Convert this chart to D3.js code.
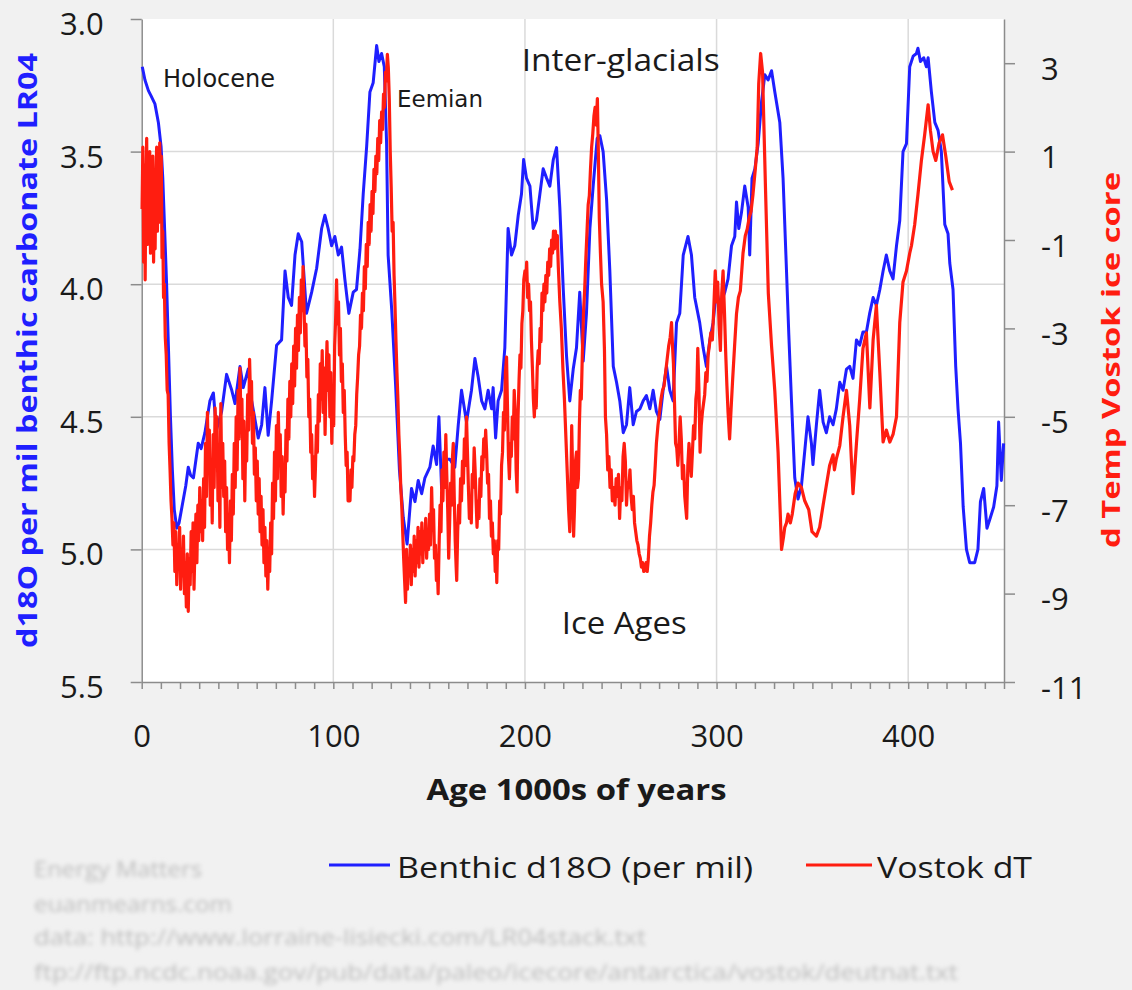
<!DOCTYPE html>
<html>
<head>
<meta charset="utf-8">
<script src="https://cdn.jsdelivr.net/npm/d3@7"></script>
<style>
  html, body { margin: 0; padding: 0; background: #f1f1f1; }
  svg { display: block; }
</style>
</head>
<body>
<svg id="chart" width="1132" height="990"></svg>
<script>
// LR04 benthic stack: [age (ka), d18O per mil]
const benthic = [
  [0.3,3.18],[1.7,3.23],[3.5,3.27],[4.9,3.29],[6.9,3.32],[8.7,3.39],[10.1,3.48],[11,3.6],[12,3.8],[13,4.0],
  [14,4.25],[15,4.5],[16,4.7],[17,4.85],[18.3,4.92],[19.5,4.9],[21,4.84],[23,4.76],[24.3,4.69],[25.5,4.72],
  [27,4.73],[29.5,4.60],[31,4.62],[33,4.56],[35.6,4.44],[37.4,4.41],[39,4.55],[41.7,4.48],[44.3,4.34],[47,4.40],
  [48.7,4.45],[51.3,4.31],[53,4.39],[55.6,4.32],[57.4,4.44],[60.8,4.58],[62.6,4.53],[64.3,4.39],[66,4.57],[67.8,4.44],
  [70.4,4.23],[73,4.21],[74.8,3.95],[76.5,4.05],[78.2,4.08],[80,3.89],[81.7,3.81],[83.5,3.84],[86,4.11],[88.7,4.03],
  [91.3,3.94],[93.9,3.79],[95.6,3.74],[97.3,3.79],[99.1,3.855],[100.8,3.82],[102.6,3.89],[104.3,3.86],[106,3.98],[108.1,4.11],
  [110.4,4.03],[112.1,4.02],[113.9,3.87],[115.6,3.66],[117.4,3.48],[119.1,3.275],[120.8,3.24],[122.6,3.10],[123.8,3.16],[125.2,3.13],
  [126.6,3.18],[127.8,3.47],[128.6,3.89],[130.5,4.1],[132.5,4.38],[134.5,4.7],[136.5,4.88],[138.5,4.98],[140.8,4.77],[142.6,4.82],
  [144.3,4.74],[146.1,4.79],[147.8,4.73],[150.4,4.69],[152.1,4.61],[153.9,4.68],[155.1,4.50],[156.5,4.77],[158.2,4.66],[160.8,4.66],
  [163.4,4.69],[165.2,4.53],[166.9,4.40],[169.5,4.52],[172.1,4.40],[173.9,4.28],[175.6,4.35],[177.4,4.44],[179.1,4.47],[180.8,4.40],
  [182.6,4.47],[183.4,4.39],[184.7,4.58],[186,4.44],[187.8,4.40],[189.5,4.24],[191.2,3.79],[193,3.89],[194.7,3.855],[196.5,3.74],
  [198.2,3.66],[199.3,3.53],[200.8,3.60],[202.6,3.63],[204.3,3.79],[206,3.76],[207.8,3.66],[209.5,3.565],[211.3,3.60],[213,3.63],
  [214.8,3.53],[216.5,3.485],[218.2,3.71],[220,4.02],[221.7,4.27],[223.4,4.44],[225.2,4.32],[226.9,4.24],[228.6,4.03],[230.4,4.29],
  [232.1,4.11],[233.9,3.79],[235.6,3.63],[237.7,3.45],[239.1,3.44],[240.8,3.50],[242.6,3.68],[244.3,3.95],[246.1,4.31],[247.8,4.37],
  [249.5,4.44],[251.3,4.56],[253,4.53],[254.7,4.39],[256.5,4.53],[258.2,4.48],[260,4.47],[261.7,4.44],[263.4,4.42],[265.2,4.47],
  [266.9,4.40],[268.6,4.48],[270.4,4.51],[272.1,4.40],[273.9,4.31],[275.6,4.40],[277.3,4.44],[279.1,4.145],[280.8,4.11],[282.6,3.89],
  [285.1,3.82],[286.9,3.89],[288.6,4.05],[291.2,4.145],[293,4.24],[294.7,4.31],[296.5,4.21],[298.2,4.145],[299.9,4.02],[301.7,4.08],
  [304.3,4.03],[306,3.98],[307.8,3.855],[309.5,3.82],[310.4,3.69],[311.6,3.79],[313,3.73],[314.7,3.63],[316.5,3.71],[317.3,3.89],
  [318.5,3.60],[320,3.565],[321.7,3.47],[323.5,3.31],[325.2,3.21],[326.9,3.23],[328.7,3.195],[330.4,3.275],[333,3.39],[334.7,3.60],
  [336.5,3.95],[337.7,4.19],[339.1,4.44],[340.8,4.73],[342.5,4.81],[344.3,4.76],[346,4.63],[347.7,4.50],[349.5,4.60],[350.3,4.68],
  [352.1,4.53],[353.8,4.40],[355.6,4.52],[357.3,4.56],[359,4.50],[360.8,4.53],[362.5,4.47],[364.3,4.37],[366,4.40],[367.8,4.32],
  [369.5,4.31],[371.2,4.355],[373,4.21],[374.7,4.23],[376.4,4.18],[378.2,4.18],[379.9,4.11],[381.7,4.05],[383.4,4.08],[385.2,4.02],
  [386.9,3.95],[388.6,3.89],[390.4,3.95],[392.1,3.98],[393.9,3.855],[395.6,3.76],[397.3,3.50],[399.1,3.47],[400.8,3.18],[402.6,3.14],
  [404.3,3.13],[405.1,3.11],[406.4,3.16],[408.1,3.146],[409.5,3.18],[410.4,3.146],[412.1,3.275],[413.9,3.39],[415.6,3.42],[417.3,3.50],
  [419.1,3.775],[420.8,3.81],[421.7,3.92],[423.4,4.02],[424.8,4.31],[426,4.47],[427.3,4.60],[428.7,4.84],[430.4,5.00],[432.1,5.05],
  [434.7,5.05],[436.4,5.00],[437.7,4.82],[439.4,4.77],[441.1,4.92],[442.9,4.88],[444.6,4.84],[446.3,4.76],[447.2,4.52],[448.6,4.74],
  [449.8,4.60]
];

// Vostok deuterium temperature anomaly: [age (ka), dT degrees C]
const vostok = [
  [0.2,-0.3],[0.6,1.1],[1.0,-1.5],[1.4,0.7],[1.8,-1.9],[2.2,0.3],[2.6,1.3],[3.0,-1.1],[3.4,0.5],[3.8,-0.7],
  [4.2,1.0],[4.6,-1.3],[5.0,0.6],[5.4,-0.3],[5.8,0.9],[6.2,-1.5],[6.6,0.1],[7.0,-1.2],[7.4,0.4],[7.8,1.1],
  [8.2,-0.8],[8.6,0.9],[9.0,-0.6],[9.4,1.2],[9.8,0.1],[10.2,0.9],[10.6,-1.4],[11.0,-0.8],[11.4,-2.3],[11.8,-2.0],
  [12.3,-3.2],[12.8,-3.6],[13.3,-4.4],[13.8,-4.5],[14.3,-5.6],[14.8,-6.2],[15.3,-6.9],[15.8,-7.3],[16.3,-7.9],
  [16.8,-7.4],[17.3,-8.5],[17.8,-7.6],[18.3,-8.8],[18.8,-7.9],[19.3,-8.4],[19.8,-7.5],[20.3,-8.9],[20.8,-8.0],[21.3,-8.6],
  [21.8,-7.7],[22.3,-9.0],[22.8,-8.3],[23.3,-9.3],[23.8,-8.1],[24.3,-9.4],[24.8,-8.2],[25.3,-8.8],[25.8,-7.6],[26.3,-8.5],
  [26.8,-7.4],[27.3,-8.9],[27.8,-7.9],[28.3,-7.2],[28.8,-8.3],[29.3,-7.0],[29.8,-7.8],[30.3,-6.6],[30.8,-7.6],[31.3,-6.9],
  [31.8,-7.8],[32.3,-6.4],[32.8,-7.5],[33.3,-5.6],[33.8,-6.8],[34.3,-4.9],[34.8,-6.2],[35.3,-5.3],[35.8,-7.0],[36.3,-6.0],
  [36.8,-7.4],[37.3,-5.4],[37.8,-6.6],[38.3,-4.8],[38.8,-6.1],[39.3,-5.0],[39.8,-6.9],[40.3,-5.9],[40.8,-7.5],[41.3,-4.7],
  [41.8,-6.6],[42.3,-5.6],[42.8,-6.8],[43.3,-6.0],[43.8,-7.6],[44.3,-6.6],[44.8,-8.0],[45.3,-7.2],[45.8,-8.3],[46.3,-6.9],
  [46.8,-7.8],[47.3,-6.3],[47.8,-7.2],[48.3,-5.6],[48.8,-6.6],[49.3,-5.0],[49.8,-6.2],[50.3,-4.4],[50.8,-5.5],[51.3,-3.9],
  [51.8,-5.2],[52.3,-4.6],[52.8,-6.4],[53.3,-5.1],[53.8,-6.9],[54.3,-5.4],[54.8,-6.0],[55.3,-4.5],[55.8,-5.3],[56.3,-3.7],
  [56.8,-4.6],[57.3,-4.2],[57.8,-5.6],[58.3,-4.9],[58.8,-6.3],[59.3,-5.7],[59.8,-6.9],[60.3,-6.0],[60.8,-7.2],[61.3,-6.4],
  [61.8,-7.6],[62.3,-6.8],[62.8,-7.9],[63.3,-7.1],[63.8,-8.3],[64.3,-7.5],[64.8,-8.6],[65.3,-7.8],[65.8,-8.9],[66.3,-8.0],
  [66.8,-8.5],[67.3,-7.4],[67.8,-8.1],[68.3,-6.5],[68.8,-7.3],[69.3,-5.8],[69.8,-6.9],[70.3,-5.2],[70.8,-6.4],[71.3,-4.9],
  [71.8,-6.0],[72.3,-5.4],[72.8,-6.8],[73.3,-5.9],[73.8,-7.2],[74.3,-6.1],[74.8,-6.7],[75.3,-5.3],[75.8,-6.0],[76.3,-4.6],
  [76.8,-5.5],[77.3,-4.2],[77.8,-5.0],[78.3,-3.8],[78.8,-4.7],[79.3,-3.4],[79.8,-4.3],[80.3,-3.0],[80.8,-3.9],[81.3,-2.7],
  [81.8,-3.5],[82.3,-2.3],[82.8,-3.1],[83.3,-1.9],[83.8,-2.6],[84.2,-1.6],[84.7,-2.5],[85.2,-3.4],[85.7,-2.9],[86.2,-4.1],
  [86.7,-3.7],[87.2,-5.0],[87.7,-4.6],[88.2,-5.8],[88.7,-5.4],[89.2,-6.4],[89.7,-5.9],[90.2,-6.8],[90.7,-6.1],[91.2,-5.2],
  [91.7,-5.8],[92.2,-4.5],[92.7,-5.1],[93.2,-3.8],[93.7,-4.6],[94.2,-3.5],[94.7,-4.9],[95.2,-3.9],[95.7,-5.4],[96.2,-4.2],
  [96.7,-3.3],[97.2,-4.4],[97.7,-3.6],[98.2,-5.0],[98.7,-4.0],[99.2,-5.6],[99.7,-4.5],[100.2,-5.2],[100.7,-3.4],[101.2,-2.8],
  [101.7,-1.9],[102.2,-2.9],[102.7,-2.4],[103.2,-3.6],[103.7,-3.0],[104.2,-4.2],[104.7,-3.8],[105.2,-4.9],[105.7,-4.4],[106.2,-5.4],
  [106.7,-6.1],[107.2,-5.8],[107.7,-6.9],[108.2,-6.5],[108.7,-6.9],[109.2,-6.2],[109.7,-6.6],[110.2,-5.9],[110.7,-6.0],[111.2,-5.4],
  [111.7,-5.2],[112.2,-4.5],[112.7,-4.1],[113.2,-3.6],[113.7,-3.4],[114.2,-2.7],[114.7,-3.0],[115.2,-2.2],[115.7,-2.6],[116.2,-1.6],
  [116.7,-2.1],[117.2,-1.1],[117.7,-1.6],[118.2,-0.6],[118.7,-1.1],[119.2,-0.2],[119.7,-0.8],[120.2,0.1],[120.7,-0.4],[121.2,0.6],
  [121.7,0.1],[122.2,0.9],[122.7,0.5],[123.2,1.3],[123.7,0.8],[124.2,1.7],[124.7,1.2],[125.2,1.9],[125.7,1.5],[126.2,2.3],
  [126.7,2.0],[127.2,2.8],[127.7,2.6],[128.2,3.2],[128.7,2.9],[129.2,2.2],[129.7,1.0],[130.2,0.2],[130.7,-0.8],[131.2,-0.6],
  [131.7,-1.8],[132.2,-2.5],[132.7,-3.3],[133.2,-4.0],[133.7,-4.6],[134.2,-5.4],[134.7,-5.9],[135.2,-6.6],[135.7,-7.0],[136.2,-7.6],
  [136.7,-8.2],[137.2,-8.7],[137.7,-9.2],[138.2,-8.0],[138.7,-8.9],[139.2,-8.2],[139.7,-8.6],[140.2,-7.9],[140.7,-8.8],[141.2,-8.0],
  [141.7,-8.5],[142.2,-7.7],[142.7,-8.6],[143.2,-7.8],[143.7,-8.3],[144.2,-7.5],[144.7,-8.4],[145.2,-7.6],[145.7,-8.1],[146.2,-7.4],
  [146.7,-8.3],[147.2,-7.6],[147.7,-8.0],[148.2,-7.3],[148.7,-8.2],[149.2,-7.6],[149.7,-8.0],[150.2,-7.2],[150.7,-7.9],[151.3,-6.6],
  [151.8,-7.5],[152.3,-7.1],[152.8,-8.2],[153.3,-7.9],[153.8,-8.7],[154.3,-8.4],[154.7,-9.0],[155.2,-7.9],[155.7,-7.0],[156.2,-7.6],
  [156.7,-6.2],[157.2,-6.9],[157.7,-5.8],[158.2,-6.6],[158.7,-5.4],[159.2,-6.3],[159.7,-7.1],[160.2,-8.2],[160.7,-7.4],[161.2,-6.5],
  [161.7,-7.0],[162.2,-5.9],[162.6,-5.6],[163.1,-6.8],[163.6,-7.8],[164.1,-8.4],[164.4,-8.7],[164.9,-7.6],[165.4,-7.0],[165.9,-7.4],
  [166.4,-6.4],[166.9,-6.9],[167.4,-6.0],[167.9,-6.5],[168.4,-5.5],[168.9,-6.1],[169.5,-5.0],[170.0,-5.8],[170.5,-6.6],[171.0,-7.3],
  [171.5,-6.8],[172.0,-7.4],[172.5,-6.3],[173.0,-6.6],[173.5,-5.7],[174.0,-6.2],[174.5,-6.9],[175.0,-7.5],[175.5,-6.9],[176.0,-7.3],
  [176.5,-6.4],[177.0,-6.8],[177.5,-5.9],[178.0,-6.2],[178.5,-5.5],[179.0,-5.9],[179.5,-5.3],[180.0,-5.8],[180.5,-6.5],[181.0,-6.3],
  [181.5,-7.3],[182.0,-6.9],[182.5,-7.7],[183.0,-7.4],[183.5,-8.1],[184.0,-7.8],[184.5,-8.5],[185.0,-8.2],[185.3,-8.75],[185.8,-7.8],
  [186.3,-8.0],[186.8,-6.9],[187.3,-7.2],[187.8,-6.1],[188.3,-5.8],[188.8,-4.9],[189.3,-5.3],[189.8,-4.0],[190.4,-3.65],[190.9,-4.8],
  [191.4,-5.9],[191.9,-6.4],[192.4,-5.6],[192.9,-5.9],[193.4,-5.0],[193.9,-5.5],[194.4,-4.4],[194.9,-4.9],[195.4,-6.2],[195.9,-6.7],
  [196.4,-5.0],[196.9,-4.2],[197.4,-3.6],[197.9,-3.9],[198.4,-2.9],[198.9,-2.6],[199.4,-1.9],[200.0,-1.7],[200.5,-1.9],[200.9,-1.5],
  [201.4,-2.3],[201.9,-2.0],[202.4,-2.6],[202.9,-2.4],[203.4,-3.3],[203.9,-3.9],[204.4,-4.6],[204.9,-5.0],[205.4,-4.4],[205.9,-4.8],
  [206.4,-3.9],[206.9,-3.5],[207.4,-3.8],[207.9,-3.0],[208.4,-3.3],[208.9,-2.2],[209.4,-2.6],[209.9,-2.0],[210.4,-2.4],[210.9,-1.8],
  [211.4,-2.2],[211.9,-1.5],[212.4,-1.8],[212.9,-1.2],[213.4,-1.6],[213.9,-1.0],[214.4,-1.3],[214.9,-0.8],[215.4,-1.2],[215.9,-0.8],
  [216.4,-1.1],[216.9,-0.9],[217.4,-1.6],[218.2,-2.4],[219.0,-3.0],[219.8,-3.9],[220.6,-4.6],[221.4,-5.5],[222.2,-6.4],[222.8,-7.1],
  [223.4,-7.6],[223.9,-6.8],[224.4,-5.2],[224.9,-6.3],[225.4,-7.7],[225.9,-7.0],[226.4,-6.0],[226.9,-5.8],[227.4,-6.6],[227.9,-6.4],
  [228.4,-5.2],[228.9,-4.4],[229.4,-4.6],[230.0,-3.5],[230.6,-2.6],[231.2,-2.1],[231.8,-1.4],[232.4,-0.8],[233.0,-0.2],[233.6,0.0],
  [234.2,0.6],[234.8,1.1],[235.4,1.4],[236.0,1.8],[236.6,2.0],[237.2,1.6],[237.8,2.2],[238.3,1.0],[238.8,-0.5],[239.4,-1.3],
  [240.0,-2.0],[240.8,-2.4],[241.5,-3.5],[242.0,-5.0],[242.6,-5.4],[243.2,-6.2],[243.8,-5.9],[244.4,-6.6],[245.0,-6.2],[245.6,-6.9],
  [246.2,-6.6],[247.0,-7.0],[247.6,-6.4],[248.2,-6.8],[248.8,-6.3],[249.4,-7.3],[250.0,-6.6],[250.6,-6.9],[251.2,-5.9],[251.8,-5.6],
  [252.4,-6.0],[253.0,-7.0],[253.6,-6.5],[254.2,-6.6],[254.8,-6.2],[255.4,-6.8],[256.0,-7.1],[256.6,-6.8],[257.2,-7.4],[257.8,-7.6],
  [258.4,-7.8],[259.0,-7.9],[259.6,-8.1],[260.2,-8.2],[260.8,-8.4],[261.4,-8.3],[262.0,-8.5],[262.6,-8.48],[263.2,-8.3],[263.8,-8.5],
  [264.4,-8.2],[265.0,-7.7],[265.6,-7.4],[266.2,-7.0],[266.8,-6.7],[267.4,-6.55],[268.0,-6.1],[268.6,-5.6],[269.4,-5.2],[270.2,-4.9],
  [271.0,-4.6],[271.8,-4.4],[272.6,-4.3],[273.4,-4.0],[274.2,-3.7],[275.0,-3.4],[275.8,-3.2],[276.5,-2.87],[277.0,-3.4],[277.5,-3.8],
  [278.0,-4.6],[278.6,-5.6],[279.2,-5.7],[279.8,-6.1],[280.4,-5.6],[281.0,-5.0],[281.6,-5.5],[282.2,-6.4],[282.8,-6.1],[283.4,-6.8],
  [284.0,-7.1],[284.4,-7.3],[285.0,-6.1],[285.6,-5.6],[286.2,-6.0],[286.8,-6.35],[287.4,-5.8],[288.0,-5.2],[288.6,-5.5],[289.2,-4.6],
  [289.7,-4.4],[290.2,-3.45],[290.8,-4.4],[291.4,-5.8],[292.0,-5.2],[292.6,-4.9],[293.2,-4.7],[293.8,-4.5],[294.4,-4.0],[295.0,-4.2],
  [295.6,-3.6],[296.2,-3.4],[297.0,-3.1],[297.8,-3.26],[298.5,-2.6],[299.3,-1.7],[300.0,-2.4],[300.6,-1.95],[301.3,-2.9],[302.0,-3.5],
  [302.7,-2.2],[303.4,-1.7],[304.1,-2.6],[304.8,-3.6],[305.4,-4.3],[306.0,-4.9],[306.8,-5.5],[307.6,-4.8],[308.4,-4.15],[309.4,-3.4],
  [310.4,-2.67],[311.4,-2.3],[312.4,-2.15],[313.8,-1.3],[315.0,-0.9],[316.0,-0.75],[317.0,-0.5],[318.0,-0.35],[319.0,0.03],[320.2,0.6],
  [321.2,1.1],[322.0,2.54],[323.0,3.22],[324.0,2.8],[325.5,0.22],[327.0,-2.2],[328.7,-3.4],[330.4,-4.42],[332.1,-5.8],[333.9,-8.0],
  [335.0,-7.7],[335.6,-7.5],[336.5,-7.4],[337.3,-7.2],[338.5,-7.4],[339.5,-7.2],[341.0,-6.74],[342.5,-6.5],[344.3,-6.6],[346.0,-6.9],
  [348.1,-7.1],[349.8,-7.6],[352.1,-7.7],[353.8,-7.5],[355.6,-7.0],[357.3,-6.55],[359.0,-6.1],[360.8,-5.86],[361.5,-6.2],[362.5,-5.95],
  [364.3,-5.65],[366.0,-5.0],[367.8,-4.4],[369.5,-5.2],[371.2,-6.74],[373.0,-5.6],[374.7,-4.6],[376.4,-3.45],[378.2,-3.1],[380.0,-4.8],
  [381.7,-3.26],[383.4,-2.48],[385.2,-4.0],[386.9,-5.57],[388.6,-5.3],[390.4,-5.57],[392.1,-5.4],[393.9,-5.0],[395.6,-2.87],[397.3,-1.95],
  [399.1,-1.7],[400.8,-1.3],[401.7,-1.13],[403.4,-0.65],[405.1,0.03],[406.9,0.8],[408.6,1.38],[410.4,2.06],[411.6,1.48],[413.0,1.0],
  [414.4,0.8],[416.1,1.19],[417.9,1.38],[419.6,0.9],[421.4,0.32],[423.1,0.13]
];

const ageTicks = d3.range(0, 451, 10);
const ageLabels = [0, 100, 200, 300, 400];
const d18OTicks = [3.0, 3.5, 4.0, 4.5, 5.0, 5.5];
const tempTicks = [3, 1, -1, -3, -5, -7, -9, -11];
const seriesNames = ["Benthic d18O (per mil)", "Vostok dT"];
const periodNames = ["Holocene", "Eemian", "Inter-glacials", "Ice Ages"];
const axisTitles = ["d18O per mil benthic carbonate LR04", "d Temp Vostok ice core", "Age 1000s of years"];
const sourceLines = [
  "Energy Matters",
  "euanmearns.com",
  "data: http://www.lorraine-lisiecki.com/LR04stack.txt",
  "ftp://ftp.ncdc.noaa.gov/pub/data/paleo/icecore/antarctica/vostok/deutnat.txt"
];

const BLUE = "#1f1fff", RED = "#ff1d10", INK = "#1a1a1a";
const plot = { left: 141.7, right: 1004, top: 19, bottom: 682 };

const svg = d3.select("#chart");

const x = d3.scaleLinear().domain([0, 450]).range([plot.left, plot.right]);
const yLeft = d3.scaleLinear().domain([5.5, 3.0]).range([plot.bottom, plot.top]);
const yRight = d3.scaleLinear().domain([-11, 4]).range([plot.bottom, plot.top]);

const defs = svg.append("defs");
defs.append("filter").attr("id", "soft").attr("x", "-5%").attr("y", "-60%").attr("width", "110%").attr("height", "220%")
  .append("feGaussianBlur").attr("stdDeviation", 2.3);

// chart background and white plot area
svg.append("rect").attr("width", 1132).attr("height", 990).attr("fill", "#f1f1f1");
svg.append("rect")
  .attr("x", plot.left).attr("y", plot.top)
  .attr("width", plot.right - plot.left).attr("height", plot.bottom - plot.top)
  .attr("fill", "#ffffff");

// gridlines
const grid = svg.append("g").attr("stroke", "#dadada").attr("stroke-width", 1.5);
grid.selectAll("line.h").data(d18OTicks.filter(d => d > 3.0 && d < 5.5)).join("line")
  .attr("x1", plot.left).attr("x2", plot.right)
  .attr("y1", d => yLeft(d)).attr("y2", d => yLeft(d));
grid.selectAll("line.v").data(ageLabels.filter(d => d > 0)).join("line")
  .attr("y1", plot.top).attr("y2", plot.bottom)
  .attr("x1", d => x(d)).attr("x2", d => x(d));

// axes
function styleAxis(g) {
  g.selectAll("path.domain").attr("stroke", "#8c8c8c").attr("stroke-width", 1.5);
  g.selectAll(".tick line").attr("stroke", "#8c8c8c").attr("stroke-width", 1.5);
  g.selectAll(".tick text")
    .attr("fill", INK)
    .style("font-family", "'Open Sans', sans-serif")
    .style("font-size", "31px");
}

const gLeft = svg.append("g").attr("transform", `translate(${plot.left},0)`)
  .call(d3.axisLeft(yLeft).tickValues(d18OTicks).tickFormat(d3.format(".1f"))
    .tickSize(11).tickSizeOuter(0).tickPadding(27));
styleAxis(gLeft);
gLeft.selectAll(".tick text").attr("dy", null).attr("y", 15.5);

// plain hyphen for negative labels
const gRight = svg.append("g").attr("transform", `translate(${plot.right},0)`)
  .call(d3.axisRight(yRight).tickValues(tempTicks).tickFormat(d => String(d))
    .tickSize(11).tickSizeOuter(0).tickPadding(26));
styleAxis(gRight);
gRight.selectAll(".tick text").attr("dy", null).attr("y", 16);

const gBottom = svg.append("g").attr("transform", `translate(0,${plot.bottom})`)
  .call(d3.axisBottom(x).tickValues(ageTicks).tickFormat(d => ageLabels.includes(d) ? d : "")
    .tickSize(7).tickSizeOuter(0));
styleAxis(gBottom);
gBottom.selectAll(".tick text").attr("dy", null).attr("y", 64.5);

// data lines (temperature drawn over the benthic record)
const lineB = d3.line().x(d => x(d[0])).y(d => yLeft(d[1]));
const lineV = d3.line().x(d => x(d[0])).y(d => yRight(d[1]));

svg.append("path").datum(benthic)
  .attr("d", lineB).attr("fill", "none")
  .attr("stroke", BLUE).attr("stroke-width", 3).attr("stroke-linejoin", "round");

svg.append("path").datum(vostok)
  .attr("d", lineV).attr("fill", "none")
  .attr("stroke", RED).attr("stroke-width", 3.2).attr("stroke-linejoin", "round");

// helper for fitted text
function label(t, px, py, opts) {
  const el = svg.append("text").text(t)
    .attr("x", px).attr("y", py)
    .attr("fill", opts.fill || INK)
    .style("font-family", opts.family || "'Open Sans', sans-serif")
    .style("font-size", opts.size + "px")
    .style("font-weight", opts.weight || 400);
  if (opts.anchor) el.attr("text-anchor", opts.anchor);
  if (opts.len) el.attr("textLength", opts.len).attr("lengthAdjust", "spacingAndGlyphs");
  if (opts.rotate) el.attr("transform", `rotate(${opts.rotate},${px},${py})`);
  return el;
}

// period annotations
label(periodNames[0], 163, 86.5, { size: 24, family: "'DejaVu Sans', sans-serif", len: 112 });
label(periodNames[1], 397, 107, { size: 23, family: "'DejaVu Sans', sans-serif", len: 86 });
label(periodNames[2], 521.7, 71, { size: 31, len: 198 });
label(periodNames[3], 561.7, 634, { size: 31, len: 125 });

// axis titles
label(axisTitles[0], 37, 350.5, { size: 26, weight: 700, fill: BLUE, anchor: "middle", len: 595, rotate: -90 });
label(axisTitles[1], 1120, 360, { size: 25, weight: 700, fill: RED, anchor: "middle", len: 376, rotate: -90 });
label(axisTitles[2], 576.5, 800, { size: 28, weight: 700, anchor: "middle", len: 300 });

// legend
const legend = svg.append("g");
const legendItems = [
  { name: seriesNames[0], color: BLUE, x0: 329, x1: 390, tx: 397, len: 356 },
  { name: seriesNames[1], color: RED, x0: 806, x1: 872, tx: 877, len: 155 }
];
legendItems.forEach(it => {
  legend.append("line").attr("x1", it.x0).attr("x2", it.x1).attr("y1", 865).attr("y2", 865)
    .attr("stroke", it.color).attr("stroke-width", 3);
  label(it.name, it.tx, 878, { size: 30, len: it.len });
});

// faint source credits
const src = svg.append("g").attr("filter", "url(#soft)");
const srcLayout = [
  { y: 877, len: 168 }, { y: 912, len: 198 }, { y: 945, len: 612 }, { y: 980, len: 924 }
];
sourceLines.forEach((t, i) => {
  src.append("text").text(t)
    .attr("x", 34).attr("y", srcLayout[i].y)
    .attr("fill", "#bdbdbd")
    .style("font-family", "'Open Sans', sans-serif")
    .style("font-size", "21px")
    .attr("textLength", srcLayout[i].len).attr("lengthAdjust", "spacingAndGlyphs");
});
</script>
</body>
</html>
